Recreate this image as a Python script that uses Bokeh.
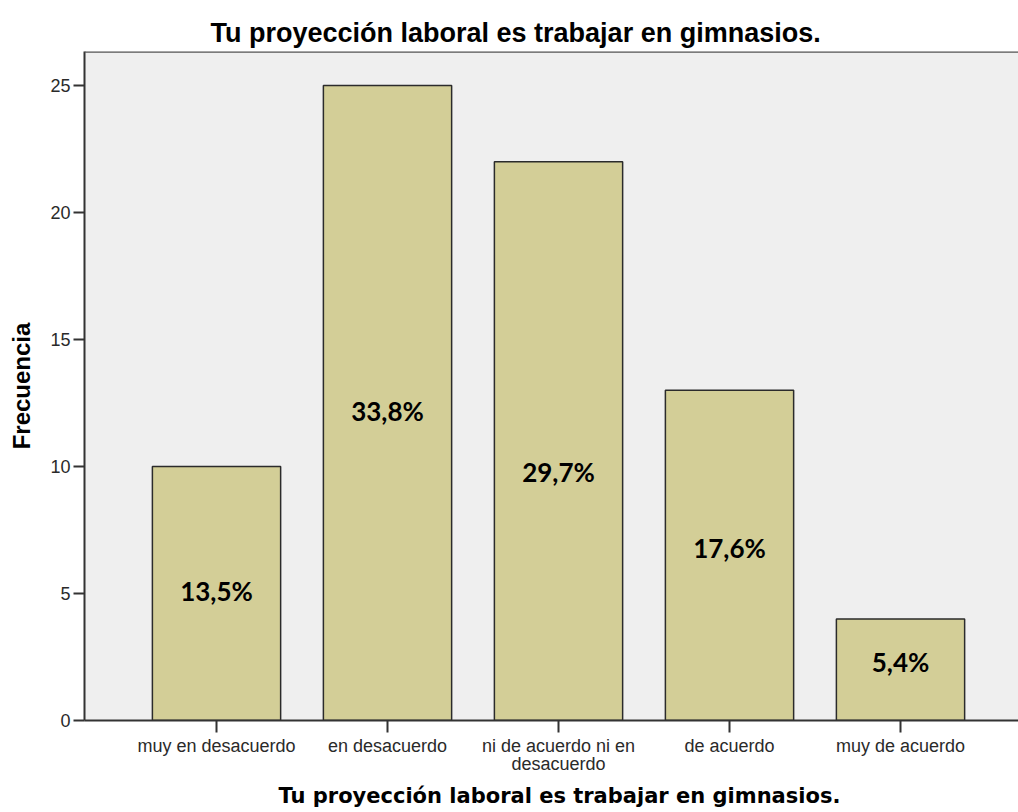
from bokeh.plotting import figure
from bokeh.models import Range1d, FixedTicker, Title, Span, ColumnDataSource, LabelSet
from bokeh.embed import file_html
from bokeh.resources import INLINE
from bokeh.core.properties import value

categories = ["muy en desacuerdo", "en desacuerdo", "ni de acuerdo ni en\ndesacuerdo",
              "de acuerdo", "muy de acuerdo"]
counts = [10, 25, 22, 13, 4]
percent_labels = ["13,5%", "33,8%", "29,7%", "17,6%", "5,4%"]
label_y = [5.1, 12.2, 9.8, 6.8, 2.3]
y_ticks = [0, 5, 10, 15, 20, 25]
title_text = "Tu proyección laboral es trabajar en gimnasios."
x_title = "Tu proyección laboral es trabajar en gimnasios."
y_title = "Frecuencia"

xs = list(range(1, len(categories) + 1))
src = ColumnDataSource(dict(x=xs, top=counts, lab=percent_labels, ly=label_y))

p = figure(width=1018, height=812, output_backend="svg", toolbar_location=None,
           x_range=Range1d(0.228, 5.69), y_range=Range1d(0, 26.34),
           min_border_left=84, min_border_right=0, min_border_top=51, min_border_bottom=92)

p.background_fill_color = "#EFEFEF"
p.border_fill_color = "white"
p.outline_line_color = None
p.xgrid.grid_line_color = None
p.ygrid.grid_line_color = None

p.vbar(x="x", top="top", width=0.75, bottom=0, source=src,
       fill_color="#D3CE97", line_color="#2b2b2b", line_width=1.5)

p.add_layout(LabelSet(x="x", y="ly", text="lab", source=src, text_align="center",
                      text_baseline="middle", text_font=value("Lato"),
                      text_font_style="bold", text_font_size="26px", text_color="black"))

p.add_layout(Span(location=p.y_range.end, dimension="width", line_color="#555555", line_width=2.5))

# axes
p.xaxis.ticker = FixedTicker(ticks=xs)
p.xaxis.major_label_overrides = {x: c for x, c in zip(xs, categories)}
p.yaxis.ticker = FixedTicker(ticks=y_ticks)
for ax in (p.xaxis[0], p.yaxis[0]):
    ax.axis_line_color = "#333333"
    ax.axis_line_width = 2
    ax.major_tick_line_color = "#333333"
    ax.major_tick_line_width = 2
    ax.major_tick_in = 0
    ax.minor_tick_line_color = None
    ax.major_label_text_font = "Liberation Sans"
    ax.major_label_text_font_size = "18px"
    ax.major_label_text_color = "#2a2a2a"
    ax.major_label_text_line_height = 0.9
p.xaxis.major_tick_out = 12
p.xaxis.major_label_standoff = 3
p.yaxis.major_tick_out = 11
p.yaxis.major_label_standoff = 3

p.yaxis.axis_label = y_title
p.yaxis.axis_label_text_font = "Liberation Sans"
p.yaxis.axis_label_text_font_style = "bold"
p.yaxis.axis_label_text_font_size = "24px"
p.yaxis.axis_label_text_color = "black"
p.yaxis.axis_label_standoff = 12

p.title = Title(text=title_text, align="left", offset=126, text_font="Liberation Sans",
                text_font_style="bold", text_font_size="27px", text_color="black", standoff=8)

p.add_layout(Title(text=x_title, align="left", offset=194, text_font="DejaVu Sans",
                   text_font_style="bold", text_font_size="21px", text_color="black"), "below")

open("out.html", "w").write(file_html(p, INLINE))
